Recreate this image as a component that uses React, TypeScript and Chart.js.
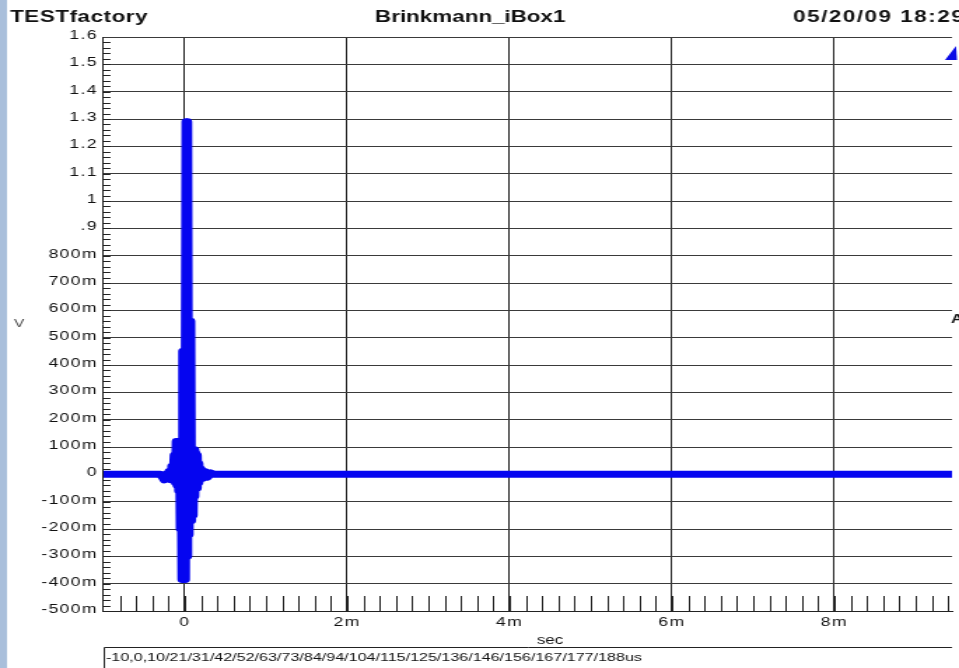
import React, { useEffect, useRef } from 'react';
import { Chart, registerables } from 'chart.js';

Chart.register(...registerables);

// ---------- text ----------
const TITLE_LEFT = 'TESTfactory';
const TITLE_CENTER = 'Brinkmann_iBox1';
const TITLE_RIGHT = '05/20/09 18:29';
const Y_UNIT = 'V';
const X_UNIT = 'sec';
const FOOTER = '-10,0,10/21/31/42/52/63/73/84/94/104/115/125/136/146/156/167/177/188us';
const RIGHT_MARK = 'A';

// ---------- data (time in ms, voltage in V) ----------
const TIME_MS = [
  -1.0, -0.4, -0.3, -0.27, -0.25, -0.23, -0.21, -0.19, -0.17, -0.155,
  -0.14, -0.125, -0.11, -0.1, -0.09, -0.08, -0.07, -0.06, -0.05, -0.04,
  -0.03, -0.02, -0.01, 0.0, 0.005, 0.02, 0.03, 0.035, 0.045, 0.05,
  0.06, 0.07, 0.08, 0.09, 0.1, 0.11, 0.12, 0.13, 0.14, 0.15,
  0.16, 0.17, 0.18, 0.2, 0.22, 0.25, 0.28, 0.32, 0.36, 9.45,
];
const VOLTS = [
  0, 0, 0, -0.01, -0.02, 0.0, -0.01, 0.01, -0.02, 0.03,
  -0.02, 0.07, -0.03, 0.12, -0.04, 0.12, -0.06, 0.12, -0.2, 0.12,
  -0.385, 0.45, -0.2, 0.45, -0.385, 1.29, -0.3, 1.29, -0.22, 0.56,
  -0.17, 0.56, -0.17, 0.09, -0.15, 0.09, -0.08, 0.08, -0.05, 0.07,
  -0.03, 0.04, -0.02, 0.02, -0.015, 0.01, -0.01, 0.005, 0, 0,
];

// ---------- axes ----------
const X_MIN = -1;
const X_MAX = 9.45;
const Y_MIN = -0.5;
const Y_MAX = 1.6;
const X_TICKS = [0, 2, 4, 6, 8];
const X_TICK_LABELS = ['0', '2m', '4m', '6m', '8m'];
const Y_TICKS = [-0.5, -0.4, -0.3, -0.2, -0.1, 0, 0.1, 0.2, 0.3, 0.4, 0.5, 0.6, 0.7, 0.8, 0.9, 1.0, 1.1, 1.2, 1.3, 1.4, 1.5, 1.6];
const Y_TICK_LABELS = ['-500m', '-400m', '-300m', '-200m', '-100m', '0', '100m', '200m', '300m', '400m', '500m', '600m', '700m', '800m', '.9', '1', '1.1', '1.2', '1.3', '1.4', '1.5', '1.6'];
const X_MINOR_STEP = 0.2;
const Y_MINOR_STEP = 0.02;

// ---------- layout (reference is horizontally stretched) ----------
const OUT_W = 959;
const OUT_H = 668;
const SX = 1.4;
const W = Math.round(OUT_W / SX);
const ix = (px: number) => px / SX;

const FONT = '"Liberation Sans", Arial, sans-serif';

const decor = {
  id: 'decor',
  beforeDraw(chart: any) {
    const { ctx } = chart;
    ctx.save();
    ctx.fillStyle = '#ffffff';
    ctx.fillRect(0, 0, chart.width, chart.height);
    ctx.fillStyle = '#a9bfdb';
    ctx.fillRect(0, 0, ix(7), chart.height);
    ctx.restore();
    // slightly wider tick-label text, like the reference
    (ctx as any).letterSpacing = '1px';
  },
  beforeDatasetsDraw(chart: any) {
    const { ctx, chartArea } = chart;
    const xs = chart.scales.x;
    const ys = chart.scales.y;
    ctx.save();
    ctx.strokeStyle = '#222';
    ctx.lineWidth = 1;
    ctx.beginPath();
    const nx = Math.round((X_MAX - X_MIN) / X_MINOR_STEP);
    for (let i = 1; i <= nx; i++) {
      const v = X_MIN + i * X_MINOR_STEP;
      if (v > X_MAX) break;
      const px = Math.round(xs.getPixelForValue(v)) + 0.5;
      ctx.moveTo(px, chartArea.bottom);
      ctx.lineTo(px, chartArea.bottom - 15);
    }
    const ny = Math.round((Y_MAX - Y_MIN) / Y_MINOR_STEP);
    for (let i = 1; i < ny; i++) {
      const v = Y_MIN + i * Y_MINOR_STEP;
      const py = Math.round(ys.getPixelForValue(v)) + 0.5;
      ctx.moveTo(chartArea.left, py);
      ctx.lineTo(chartArea.left + 5, py);
    }
    ctx.stroke();
    ctx.restore();
  },
  afterDraw(chart: any) {
    const { ctx, chartArea } = chart;
    ctx.save();
    ctx.fillStyle = '#111';
    ctx.textBaseline = 'alphabetic';
    ctx.textAlign = 'left';
    ctx.font = `bold 16px ${FONT}`;
    ctx.letterSpacing = '0.4px';
    ctx.fillText(TITLE_LEFT, ix(10), 22);
    ctx.letterSpacing = '0px';
    ctx.fillText(TITLE_CENTER, ix(375), 22);
    ctx.letterSpacing = '1.1px';
    ctx.fillText(TITLE_RIGHT, ix(793), 22);
    ctx.letterSpacing = '0px';

    ctx.font = `11px ${FONT}`;
    ctx.fillStyle = '#444';
    ctx.textAlign = 'center';
    ctx.textBaseline = 'middle';
    ctx.fillText(Y_UNIT, ix(19), 324);

    ctx.fillStyle = '#111';
    ctx.font = `12px ${FONT}`;
    ctx.fillText(X_UNIT, ix(550), 641);

    // footer box
    ctx.strokeStyle = '#222';
    ctx.lineWidth = 1;
    ctx.beginPath();
    const bx = Math.round(chartArea.left) + 0.5;
    ctx.moveTo(bx, OUT_H);
    ctx.lineTo(bx, 647.5);
    ctx.lineTo(chartArea.right, 647.5);
    ctx.stroke();
    ctx.textAlign = 'left';
    ctx.font = `11.5px ${FONT}`;
    ctx.fillText(FOOTER, ix(106), 658);

    // right side partial legend glyphs
    ctx.font = `bold 12px ${FONT}`;
    ctx.fillText(RIGHT_MARK, ix(951), 320);
    ctx.fillStyle = '#0a0ae6';
    ctx.beginPath();
    ctx.moveTo(ix(945), 60);
    ctx.lineTo(ix(956), 46);
    ctx.lineTo(ix(957), 60);
    ctx.closePath();
    ctx.fill();
    ctx.restore();
  },
};

export default function App() {
  const ref = useRef<HTMLCanvasElement | null>(null);

  useEffect(() => {
    const canvas = ref.current;
    if (!canvas) return;
    const points = TIME_MS.map((t, i) => ({ x: t, y: VOLTS[i] }));
    const chart = new Chart(canvas, {
      type: 'scatter',
      data: {
        datasets: [
          {
            label: 'V',
            data: points,
            showLine: true,
            borderColor: '#0505f0',
            backgroundColor: '#0505f0',
            borderWidth: 7,
            borderCapStyle: 'round',
            borderJoinStyle: 'round',
            pointRadius: 0,
            tension: 0,
          },
        ],
      },
      options: {
        responsive: false,
        animation: false,
        devicePixelRatio: 1,
        layout: { padding: { left: 0, top: 37, right: W - ix(952), bottom: 0 } },
        plugins: {
          legend: { display: false },
          tooltip: { enabled: false },
          title: { display: false },
        },
        scales: {
          x: {
            type: 'linear',
            position: 'bottom',
            min: X_MIN,
            max: X_MAX,
            afterBuildTicks: (scale: any) => {
              scale.ticks = X_TICKS.map((v) => ({ value: v }));
            },
            afterFit: (scale: any) => {
              scale.height = 57;
            },
            grid: { color: '#222', lineWidth: 1, drawTicks: false },
            border: { display: true, color: '#222', width: 1 },
            ticks: {
              autoSkip: false,
              maxRotation: 0,
              padding: 4,
              color: '#111',
              font: { family: FONT, size: 12.5 },
              callback: (value: any) => {
                const i = X_TICKS.findIndex((t) => Math.abs(t - Number(value)) < 1e-6);
                return i >= 0 ? X_TICK_LABELS[i] : '';
              },
            },
          },
          y: {
            type: 'linear',
            position: 'left',
            min: Y_MIN,
            max: Y_MAX,
            afterBuildTicks: (scale: any) => {
              scale.ticks = Y_TICKS.map((v) => ({ value: v }));
            },
            afterFit: (scale: any) => {
              scale.width = ix(103.5);
            },
            grid: { color: '#3a3a3a', lineWidth: 1, drawTicks: false },
            border: { display: true, color: '#222', width: 1 },
            ticks: {
              autoSkip: false,
              padding: 4,
              labelOffset: -1.5,
              color: '#111',
              font: { family: FONT, size: 12.5 },
              callback: (value: any) => {
                const i = Y_TICKS.findIndex((t) => Math.abs(t - Number(value)) < 1e-6);
                return i >= 0 ? Y_TICK_LABELS[i] : '';
              },
            },
          },
        },
      },
      plugins: [decor],
    } as any);
    return () => chart.destroy();
  }, []);

  return (
    <div style={{ position: 'fixed', left: 0, top: 0, width: OUT_W, height: OUT_H, overflow: 'hidden', background: '#fff' }}>
      <canvas
        ref={ref}
        width={W}
        height={OUT_H}
        style={{ width: `${OUT_W}px`, height: `${OUT_H}px`, display: 'block' }}
      />
    </div>
  );
}
